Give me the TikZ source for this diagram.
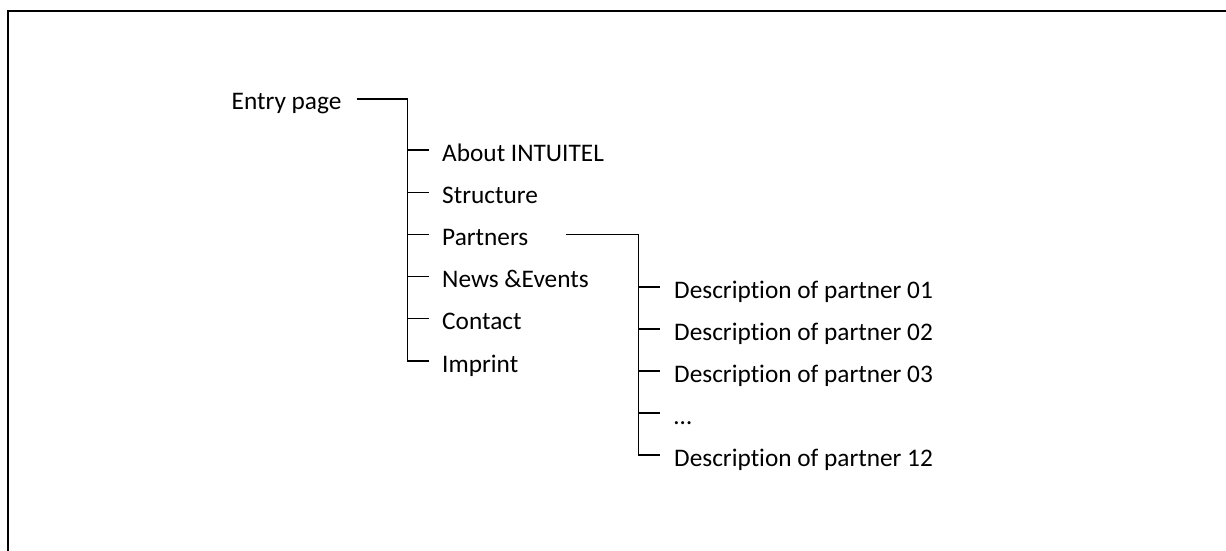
\documentclass[tikz,border=0pt]{standalone}
\usepackage{fontspec}
\setmainfont[Ligatures=NoCommon]{Carlito}
\begin{document}
\begin{tikzpicture}[x=1pt,y=-1pt,
  lbl/.style={anchor=base west, inner sep=0pt, font=\fontsize{25.3}{30}\selectfont},
  conn/.style={line width=1.3pt},
  framestyle/.style={line width=2pt}]
\useasboundingbox (0,0) rectangle (1226,551);
\draw[framestyle] (8,551) -- (8,11) -- (1226,11);
% level 0
\node[lbl] (entry) at (231.5,110) {Entry page};
% level 1
\node[lbl] (about)    at (442,161) {About INTUITEL};
\node[lbl] (struct)   at (442,203.2) {Structure};
\node[lbl] (partners) at (442,245.4) {Partners};
\node[lbl] (news)     at (442,287.6) {News \&Events};
\node[lbl] (contact)  at (442,329.8) {Contact};
\node[lbl] (imprint)  at (442,372) {Imprint};
% level 2
\node[lbl] (d01) at (674,298) {Description of partner 01};
\node[lbl] (d02) at (674,340) {Description of partner 02};
\node[lbl] (d03) at (674,382) {Description of partner 03};
\node[lbl] (dots) at (674,424) {\dots};
\node[lbl] (d12) at (674,466) {Description of partner 12};
% trunk coordinates
\coordinate (eStart) at ([shift={(15,-11)}]entry.base east);
\coordinate (t1) at (407.5,0);
\coordinate (pStart) at ([shift={(37,-11)}]partners.base east);
\coordinate (t2) at (638.5,0);
% tick end coordinates
\foreach \n in {about,struct,partners,news,contact,imprint}
  \coordinate (\n-tick) at ([shift={(-13,-11)}]\n.base west);
\foreach \n in {d01,d02,d03,dots,d12}
  \coordinate (\n-tick) at ([shift={(-14,-11)}]\n.base west);
% level-1 connectors
\draw[conn] (eStart) -- (t1 |- eStart) -- (t1 |- imprint-tick) -- (imprint-tick);
\foreach \n in {about,struct,partners,news,contact}
  \draw[conn] (t1 |- \n-tick) -- (\n-tick);
% level-2 connectors
\draw[conn] (pStart) -- (t2 |- pStart) -- (t2 |- d12-tick) -- (d12-tick);
\foreach \n in {d01,d02,d03,dots}
  \draw[conn] (t2 |- \n-tick) -- (\n-tick);
\end{tikzpicture}
\end{document}
